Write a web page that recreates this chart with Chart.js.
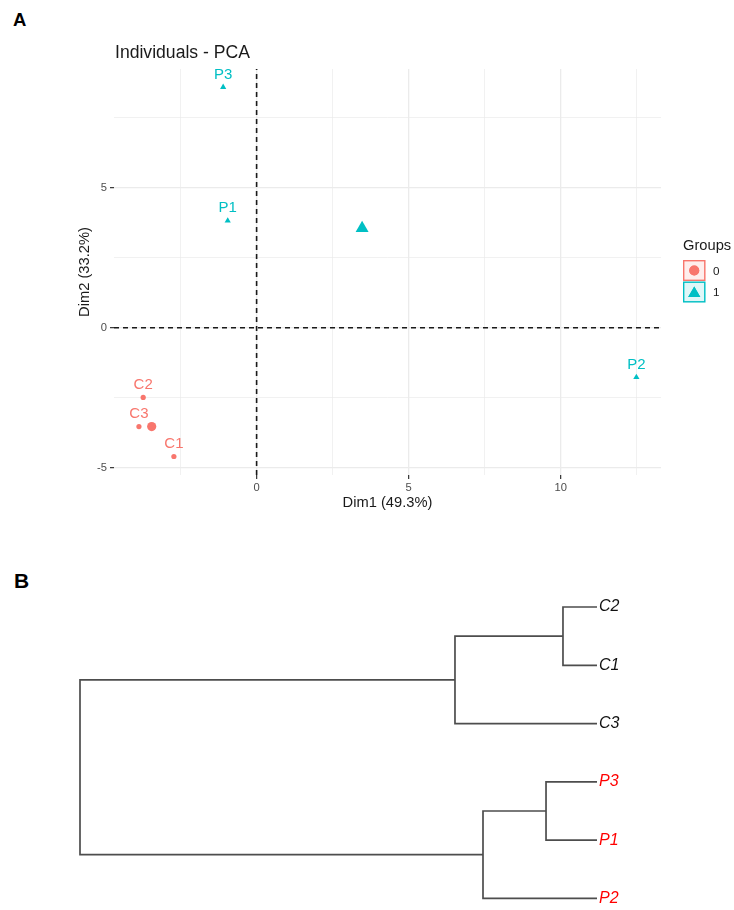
<!DOCTYPE html>
<html>
<head>
<meta charset="utf-8">
<title>Individuals - PCA and clustering</title>
<script src="https://cdn.jsdelivr.net/npm/chart.js@4.4.1/dist/chart.umd.min.js"></script>
<style>
  html, body { margin: 0; padding: 0; background: #fff; }
  body { width: 734px; height: 910px; position: relative; overflow: hidden;
         font-family: "Liberation Sans", Arial, sans-serif; }
  .panel { position: absolute; font-weight: bold; color: #000; line-height: 1; }
  canvas { position: absolute; left: 0; }
</style>
</head>
<body>
<div class="panel" style="left:13px; top:11px; font-size:18.5px;">A</div>
<div class="panel" style="left:14px; top:570px; font-size:21px;">B</div>
<canvas id="pca" width="734" height="540" style="top:0"></canvas>
<canvas id="dendro" width="734" height="370" style="top:540px"></canvas>
<script>
// ---- PCA individuals (coordinates on Dim1 / Dim2) ----
const plotTitle = 'Individuals - PCA';
const dim1Title = 'Dim1 (49.3%)';
const dim2Title = 'Dim2 (33.2%)';
const legendTitle = 'Groups';
const groupLabels = ['0', '1'];
const groupColors = ['#F8766D', '#00BFC4'];

const ctrlNames = ['C2', 'C3', 'C1'];
const ctrlDim1 = [-3.73, -3.87, -2.72];
const ctrlDim2 = [-2.49, -3.53, -4.60];

const patNames = ['P3', 'P1', 'P2'];
const patDim1 = [-1.10, -0.95, 12.49];
const patDim2 = [8.59, 3.82, -1.77];

// group mean points
const meanDim1 = [-3.45, 3.47];
const meanDim2 = [-3.53, 3.55];

// axis limits and ticks
const dim1Range = [-4.69, 13.30];
const dim2Range = [-5.26, 9.24];
const dim1Ticks = [-2.5, 0, 2.5, 5, 7.5, 10, 12.5];
const dim2Ticks = [-5, -2.5, 0, 2.5, 5, 7.5];
const labelStep = 5;

// ---- hierarchical clustering ----
const leafOrder = ['C2', 'C1', 'C3', 'P3', 'P1', 'P2'];
const leafGroup = [0, 0, 0, 1, 1, 1];
const leafColors = ['#111111', '#FF0000'];
const mergeLeft  = ['C2', 'P3', 'm2', 'm1', 'm4'];
const mergeRight = ['C1', 'P1', 'P2', 'C3', 'm3'];
const mergeHeight = [6.58, 9.86, 22.05, 27.47, 100];

const FONT = '"Liberation Sans", Arial, sans-serif';
Chart.defaults.font.family = FONT;
Chart.defaults.animation = false;

const pts = (xs, ys) => xs.map((v, i) => ({ x: v, y: ys[i] }));
const isMajor = v => Math.abs(v % labelStep) < 1e-9;

// labels, title and legend of the PCA plot
const pcaDecor = {
  id: 'pcaDecor',
  afterDatasetsDraw(chart) {
    const { ctx, chartArea, scales: { x, y } } = chart;
    ctx.save();
    ctx.textAlign = 'center';
    ctx.textBaseline = 'middle';
    ctx.font = '15px ' + FONT;
    chart.data.datasets.forEach(ds => {
      if (!ds.pointNames) return;
      ctx.fillStyle = ds.backgroundColor;
      ds.data.forEach((p, i) => {
        ctx.fillText(ds.pointNames[i], x.getPixelForValue(p.x), y.getPixelForValue(p.y) - 12.5);
      });
    });

    ctx.textAlign = 'left';
    ctx.fillStyle = '#1a1a1a';
    ctx.font = '17.6px ' + FONT;
    ctx.fillText(plotTitle, chartArea.left + 1, chartArea.top - 16);

    // legend
    const lx = chartArea.right + 22;
    ctx.font = '14.7px ' + FONT;
    ctx.fillText(legendTitle, lx, 246);
    const boxW = 22.5, boxH = 21;
    groupLabels.forEach((g, i) => {
      const by = 260 + i * 21.5;
      ctx.fillStyle = i === 0 ? 'rgba(248,118,109,0.12)' : 'rgba(0,191,196,0.12)';
      ctx.fillRect(lx, by, boxW, boxH);
      ctx.strokeStyle = groupColors[i];
      ctx.lineWidth = 1.4;
      ctx.strokeRect(lx + 0.7, by + 0.7, boxW - 1.4, boxH - 1.4);
      const cx = lx + boxW / 2, cy = by + boxH / 2;
      ctx.fillStyle = groupColors[i];
      Chart.helpers.drawPoint(ctx, {
        pointStyle: i === 0 ? 'circle' : 'triangle',
        radius: i === 0 ? 5 : 7, rotation: 0, borderWidth: 0
      }, cx, i === 0 ? cy : cy + 1.5);
      ctx.fill();
      ctx.fillStyle = '#1a1a1a';
      ctx.font = '11.7px ' + FONT;
      ctx.fillText(g, lx + 30, cy + 1);
    });
    ctx.restore();
  }
};

const dashed = { showLine: true, pointRadius: 0, borderColor: '#1a1a1a', borderWidth: 1.6,
                 borderDash: [5, 4], backgroundColor: '#1a1a1a' };

new Chart(document.getElementById('pca'), {
  type: 'scatter',
  data: {
    datasets: [
      Object.assign({ data: [{ x: 0, y: dim2Range[0] }, { x: 0, y: dim2Range[1] }] }, dashed),
      Object.assign({ data: [{ x: dim1Range[0], y: 0 }, { x: dim1Range[1], y: 0 }] }, dashed),
      { data: pts(ctrlDim1, ctrlDim2), pointNames: ctrlNames, pointStyle: 'circle',
        pointRadius: 2.6, borderWidth: 0, backgroundColor: groupColors[0] },
      { data: pts(patDim1, patDim2), pointNames: patNames, pointStyle: 'triangle',
        pointRadius: 3.6, borderWidth: 0, backgroundColor: groupColors[1] },
      { data: [{ x: meanDim1[0], y: meanDim2[0] }], pointStyle: 'circle',
        pointRadius: 4.6, borderWidth: 0, backgroundColor: groupColors[0] },
      { data: [{ x: meanDim1[1], y: meanDim2[1] }], pointStyle: 'triangle',
        pointRadius: 7.5, borderWidth: 0, backgroundColor: groupColors[1] }
    ]
  },
  options: {
    responsive: false,
    events: [],
    layout: { padding: { top: 69, right: 73, left: 0, bottom: 0 } },
    plugins: { legend: { display: false }, tooltip: { enabled: false } },
    scales: {
      x: {
        type: 'linear', min: dim1Range[0], max: dim1Range[1],
        afterBuildTicks: s => { s.ticks = dim1Ticks.map(v => ({ value: v })); },
        afterFit: s => { s.height = 65; },
        border: { display: false },
        grid: {
          color: '#EBEBEB',
          lineWidth: c => isMajor(c.tick.value) ? 1.3 : 0.7,
          tickColor: c => isMajor(c.tick.value) ? '#333333' : 'rgba(0,0,0,0)',
          tickWidth: 1.2, tickLength: 4
        },
        ticks: { autoSkip: false, maxRotation: 0, padding: 2, color: '#4D4D4D',
                 font: { size: 11.2 }, callback: v => isMajor(v) ? String(v) : '' },
        title: { display: true, text: dim1Title, color: '#1a1a1a', font: { size: 14.7 },
                 padding: { top: 0, bottom: 28 } }
      },
      y: {
        type: 'linear', min: dim2Range[0], max: dim2Range[1],
        afterBuildTicks: s => { s.ticks = dim2Ticks.map(v => ({ value: v })); },
        afterFit: s => { s.width = 114; },
        border: { display: false },
        grid: {
          color: '#EBEBEB',
          lineWidth: c => isMajor(c.tick.value) ? 1.3 : 0.7,
          tickColor: c => isMajor(c.tick.value) ? '#333333' : 'rgba(0,0,0,0)',
          tickWidth: 1.2, tickLength: 4
        },
        ticks: { autoSkip: false, padding: 3, color: '#4D4D4D',
                 font: { size: 11.2 }, callback: v => isMajor(v) ? String(v) : '' },
        title: { display: true, text: dim2Title, color: '#1a1a1a', font: { size: 14.7 },
                 padding: { top: 76, bottom: 0 } }
      }
    }
  },
  plugins: [pcaDecor]
});

// ---- dendrogram: one bracket per merge ----
const nodePos = {}, nodeH = {};
leafOrder.forEach((n, i) => { nodePos[n] = i + 1; nodeH[n] = 0; });
const bracketSets = mergeLeft.map((a, i) => {
  const b = mergeRight[i], h = mergeHeight[i], id = 'm' + (i + 1);
  nodePos[id] = (nodePos[a] + nodePos[b]) / 2;
  nodeH[id] = h;
  return {
    data: [{ x: nodeH[a], y: nodePos[a] }, { x: h, y: nodePos[a] },
           { x: h, y: nodePos[b] }, { x: nodeH[b], y: nodePos[b] }],
    showLine: true, pointRadius: 0, borderColor: '#4d4d4d', borderWidth: 1.7,
    backgroundColor: '#4d4d4d', clip: false, tension: 0
  };
});

new Chart(document.getElementById('dendro'), {
  type: 'scatter',
  data: { datasets: bracketSets },
  options: {
    responsive: false,
    events: [],
    layout: { padding: { top: 67, right: 0, left: 80, bottom: 9 } },
    plugins: { legend: { display: false }, tooltip: { enabled: false } },
    scales: {
      x: { type: 'linear', min: 0, max: Math.max(...mergeHeight), reverse: true, display: false },
      y: {
        type: 'linear', position: 'right', min: 1, max: leafOrder.length, reverse: true,
        afterBuildTicks: s => { s.ticks = leafOrder.map((n, i) => ({ value: i + 1 })); },
        afterFit: s => { s.width = 137; },
        border: { display: false },
        grid: { display: false, drawTicks: false },
        ticks: {
          autoSkip: false, padding: 2,
          font: { size: 16, style: 'italic' },
          color: c => leafColors[leafGroup[Math.round(c.tick.value) - 1]],
          callback: v => leafOrder[Math.round(v) - 1]
        }
      }
    }
  }
});
</script>
</body>
</html>
